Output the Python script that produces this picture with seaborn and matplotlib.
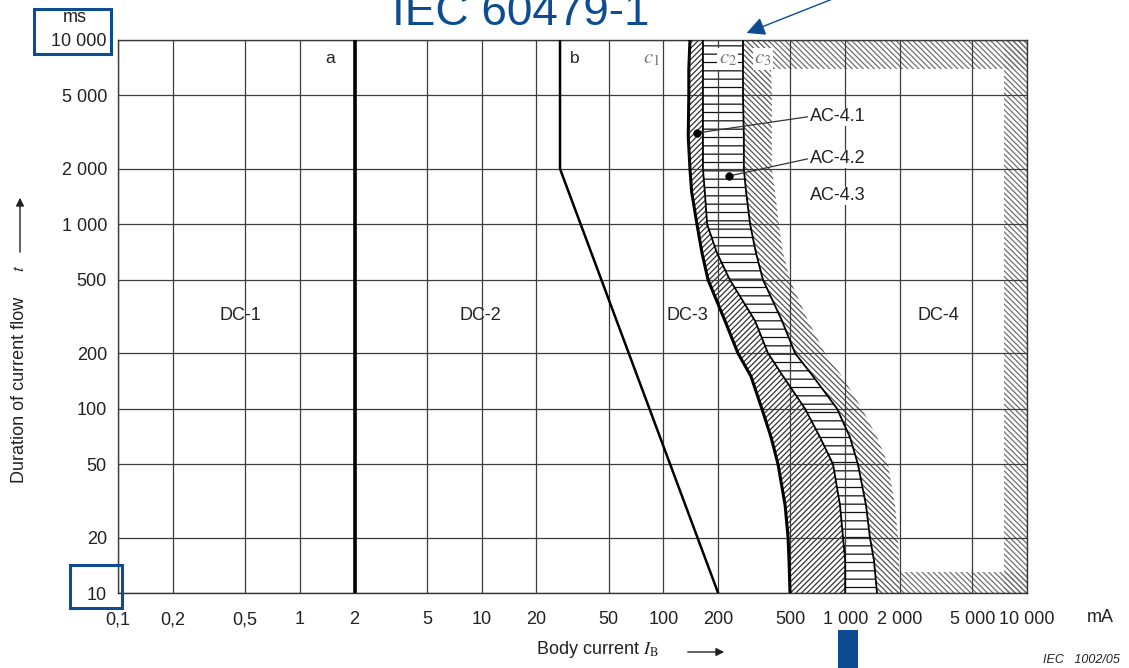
import numpy as np
import matplotlib
matplotlib.use("Agg")
import matplotlib.pyplot as plt
import seaborn as sns
import pandas as pd
from matplotlib.patches import Rectangle

# ---------------- data ----------------
x_ticks = [0.1, 0.2, 0.5, 1, 2, 5, 10, 20, 50, 100, 200, 500, 1000, 2000, 5000, 10000]
x_tick_labels = ["0,1", "0,2", "0,5", "1", "2", "5", "10", "20", "50", "100", "200",
                 "500", "1 000", "2 000", "5 000", "10 000"]
y_ticks = [10, 20, 50, 100, 200, 500, 1000, 2000, 5000, 10000]
y_tick_labels = ["10", "20", "50", "100", "200", "500", "1 000", "2 000", "5 000", "10 000"]

line_a_current = [2, 2]
line_a_time = [10, 10000]
line_b_current = [27, 27, 200]
line_b_time = [10000, 2000, 10]

curve_time = [10000, 7000, 5000, 3000, 2000, 1500, 1000, 700, 500, 300, 200, 150, 100,
              70, 50, 30, 20, 15, 10]
c1_current = [140, 138, 138, 137, 140, 143, 153, 163, 176, 218, 257, 303, 348,
              391, 427, 467, 485, 491, 497]
c2_left = [165, 165, 165, 165, 165, 169, 174, 197, 232, 319, 376, 455, 601,
           727, 857, 936, 973, 1000, 1000]
c2_right = [274, 274, 274, 277, 277, 285, 300, 323, 353, 449, 530, 665, 902,
            1062, 1175, 1301, 1368, 1440, 1496]
c3_current = [386, 391, 395, 395, 395, 411, 432, 455, 497, 625, 774, 960, 1237,
              1496, 1718, 1879, 1950, 1977, 2000]

frame_top_time = [7000, 10000]
frame_top_current = [386, 10000]
frame_right_current = [7500, 10000]
frame_bottom_time = [10, 13]
frame_bottom_current = [2000, 10000]

zone_labels = ["DC-1", "DC-2", "DC-3", "DC-4"]
zone_label_current = [0.47, 9.8, 136, 3240]
zone_label_time = 322

ac_labels = ["AC-4.1", "AC-4.2", "AC-4.3"]
ac_label_current = [640, 640, 640]
ac_label_time = [3830, 2265, 1426]
ac_dot_current = [153, 230]
ac_dot_time = [3130, 1830]

curve_names = ["a", "b"]
curve_name_current = [1.47, 32.6]
c_names = ["$c_1$", "$c_2$", "$c_3$"]
c_name_current = [86, 226, 352]
name_time = 7900

# ---------------- style ----------------
sns.set_style("white")
plt.rcParams['font.family'] = ['Liberation Sans', 'DejaVu Sans']
plt.rcParams['mathtext.fontset'] = 'stix'
plt.rcParams['hatch.linewidth'] = 0.9

W, H = 1129, 668
BLUE = '#0D4C92'
TXT = '#222222'
FWD = '/' * 6
BWD = '\\' * 6

def P(px, py):
    return (px / W, 1 - py / H)

fig = plt.figure(figsize=(W / 100, H / 100), dpi=100)
ax = fig.add_axes([118 / W, 1 - 593 / H, (1027 - 118) / W, (593 - 40) / H])
ax.set_xscale('log')
ax.set_yscale('log')
ax.set_xlim(0.1, 10000)
ax.set_ylim(10, 10000)
ax.set_xticks(x_ticks, x_tick_labels)
ax.set_yticks(y_ticks, y_tick_labels)
ax.minorticks_off()
ax.set_axisbelow(False)
ax.grid(True, which='major', color='#3c3c3c', lw=0.9, zorder=3)
ax.tick_params(axis='x', length=0, pad=13, labelsize=13, labelcolor=TXT)
ax.tick_params(axis='y', length=4, width=0.9, color='#555555', pad=4, labelsize=13, labelcolor=TXT)
for s in ax.spines.values():
    s.set_color('#333333')
    s.set_linewidth(1.0)

# ---------------- hatched zones ----------------
ax.fill_betweenx(curve_time, c1_current, c2_left, facecolor='none', edgecolor='#333333',
                 hatch=FWD, linewidth=0, zorder=1)
ax.fill_betweenx(curve_time, c2_left, c2_right, facecolor='white', edgecolor='#111111',
                 hatch='--', linewidth=0, zorder=1)
ax.fill_betweenx(curve_time, c2_right, c3_current, facecolor='none', edgecolor='#555555',
                 hatch=BWD, linewidth=0, zorder=1)
# DC-4 border frame
ax.fill_between(frame_top_current, frame_top_time[0], frame_top_time[1], facecolor='none',
                edgecolor='#707070', hatch=BWD, linewidth=0, zorder=1)
ax.fill_betweenx([10, 10000], frame_right_current[0], frame_right_current[1], facecolor='none',
                 edgecolor='#707070', hatch=BWD, linewidth=0, zorder=1)
ax.fill_between(frame_bottom_current, frame_bottom_time[0], frame_bottom_time[1], facecolor='none',
                edgecolor='#707070', hatch=BWD, linewidth=0, zorder=1)

# ---------------- curves ----------------
sns.lineplot(x=line_a_current, y=line_a_time, sort=False, estimator=None, color='black',
             lw=2.6, ax=ax, zorder=5)
sns.lineplot(x=line_b_current, y=line_b_time, sort=False, estimator=None, color='black',
             lw=1.8, ax=ax, zorder=5)
sns.lineplot(x=c1_current, y=curve_time, sort=False, estimator=None, color='black',
             lw=2.2, ax=ax, zorder=5)
sns.lineplot(x=c2_left, y=curve_time, sort=False, estimator=None, color='black',
             lw=1.3, ax=ax, zorder=5)
sns.lineplot(x=c2_right, y=curve_time, sort=False, estimator=None, color='black',
             lw=1.3, ax=ax, zorder=5)

# ---------------- labels inside ----------------
for lab, xc in zip(zone_labels, zone_label_current):
    ax.text(xc, zone_label_time, lab, ha='center', va='center', fontsize=13, color=TXT, zorder=6)
for lab, xc in zip(curve_names, curve_name_current):
    ax.text(xc, name_time, lab, ha='center', va='center', fontsize=12.5, color=TXT, zorder=6)
for i, (lab, xc) in enumerate(zip(c_names, c_name_current)):
    bb = None if i == 0 else dict(facecolor='white', edgecolor='none', pad=1)
    ax.text(xc, name_time, lab, ha='center', va='center', fontsize=15, color='#777777',
            zorder=6, bbox=bb)
for lab, xc, yc in zip(ac_labels, ac_label_current, ac_label_time):
    ax.text(xc, yc, lab, ha='left', va='center', fontsize=13, color=TXT, zorder=6,
            bbox=dict(facecolor='white', edgecolor='none', pad=0.5))
sns.scatterplot(x=ac_dot_current, y=ac_dot_time, color='black', s=30, ax=ax, zorder=7,
                edgecolor='black')
for xd, yd, yc in zip(ac_dot_current, ac_dot_time, ac_label_time[:2]):
    ax.plot([xd, ac_label_current[0] * 0.97], [yd, yc], color='#333333', lw=0.9, zorder=6)

# ---------------- axis texts ----------------
fig.text(*P(75, 17), "ms", ha='center', va='center', fontsize=13, color=TXT)
fig.text(*P(1100, 618), "mA", ha='center', va='center', fontsize=13, color=TXT)
fig.text(*P(536, 650), "Body current $I_\\mathrm{B}$", ha='left', va='center', fontsize=13,
         color=TXT)
ax.annotate("", xy=P(727, 652), xytext=P(685, 652), xycoords='figure fraction',
            textcoords='figure fraction', annotation_clip=False,
            arrowprops=dict(arrowstyle='-|>', color=TXT, lw=1.0, mutation_scale=12))
fig.text(*P(20, 390), "Duration of current flow", rotation=90, ha='center', va='center',
         fontsize=13, color=TXT)
fig.text(*P(20, 268), "$t$", rotation=90, ha='center', va='center', fontsize=13, color=TXT)
ax.annotate("", xy=P(20, 195), xytext=P(20, 255), xycoords='figure fraction',
            textcoords='figure fraction', annotation_clip=False,
            arrowprops=dict(arrowstyle='-|>', color=TXT, lw=1.0, mutation_scale=12))
fig.text(*P(1120, 660), "IEC   1002/05", ha='right', va='center', fontsize=9, style='italic',
         color=TXT)

# ---------------- blue overlay ----------------
fig.text(*P(521, 25), "IEC 60479-1", ha='center', va='baseline', fontsize=33, color=BLUE)
ax.annotate("", xy=P(744, 34), xytext=P(835, -2), xycoords='figure fraction',
            textcoords='figure fraction', annotation_clip=False,
            arrowprops=dict(arrowstyle='-|>', color=BLUE, lw=1.0, mutation_scale=28))
for (x0, y0, x1, y1) in [(34, 9, 111, 54), (70, 565, 122, 608)]:
    fig.add_artist(Rectangle(P(x0, y1), (x1 - x0) / W, (y1 - y0) / H, transform=fig.transFigure,
                             facecolor='none', edgecolor=BLUE, lw=2.2, zorder=10))
fig.add_artist(Rectangle(P(838, 668), 20 / W, 38 / H, transform=fig.transFigure,
                         facecolor=BLUE, edgecolor='none', zorder=10))

fig.savefig("out.png", dpi=100)
